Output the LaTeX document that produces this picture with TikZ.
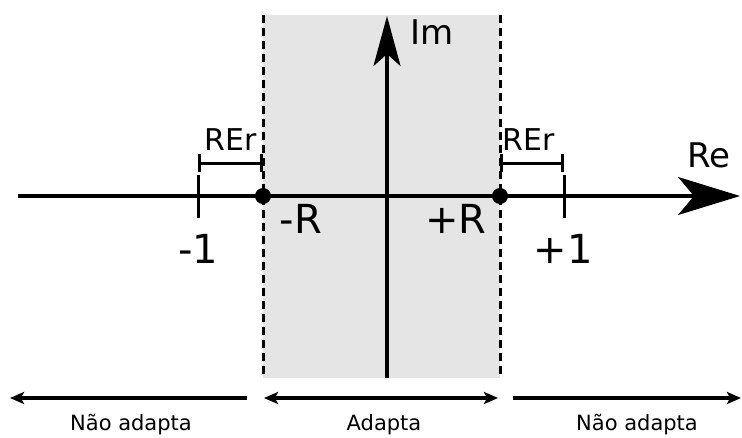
\documentclass[tikz,border=0pt]{standalone}
\usepackage{fontspec}
\setmainfont{DejaVu Sans}
\usetikzlibrary{arrows.meta, positioning, calc}
\tikzset{
  axis/.style    = {line width=3.5pt},
  retip/.tip     = {Stealth[length=62pt, width=38pt, inset=16pt]},
  imtip/.tip     = {Stealth[length=50pt, width=27pt, inset=12pt]},
  bound/.style   = {line width=3pt, dash pattern=on 8pt off 5pt},
  unitbar/.style = {line width=3pt},
  errbar/.style  = {line width=3pt, {Bar[width=18pt]}-{Bar[width=18pt]}},
  zonearr/.style = {line width=3.5pt},
  ztip/.tip      = {Stealth[length=14pt, width=12pt, inset=3pt]},
  pole/.style    = {circle, fill, inner sep=0pt, minimum size=16pt},
  biglbl/.style  = {anchor=base, inner sep=0pt,
                    font=\fontsize{40}{48}\selectfont},
  axlbl/.style   = {anchor=base, inner sep=0pt,
                    font=\fontsize{34}{40}\selectfont},
  errlbl/.style  = {anchor=base, inner sep=0pt,
                    font=\fontsize{30}{36}\selectfont},
  zonelbl/.style = {anchor=base, inner sep=0pt,
                    font=\fontsize{21}{26}\selectfont},
}

\begin{document}
\begin{tikzpicture}[x=1pt, y=-1pt]
  \useasboundingbox (0,0) rectangle (742,437);

  % band |Re| < R
  \coordinate (bL) at (263,15);
  \coordinate (bR) at (500,378);
  \fill[black!10] (bL) rectangle (bR);

  % axes
  \coordinate (reL) at (18,196);
  \coordinate (reR) at (740,196);
  \coordinate (imB) at (387,378);
  \coordinate (imT) at (387,16);
  \draw[axis, -retip] (reL) -- (reR);
  \draw[axis, -imtip] (imB) -- (imT);
  \node[axlbl] (re) at (709,167) {Re};
  \node[axlbl] (im) at (432,44) {Im};

  % band limits
  \draw[bound] (bL) -- (bL |- bR);
  \draw[bound] (bL -| bR) -- (bR);

  % unit marks
  \coordinate (um) at (198,196);
  \coordinate (up) at (564,196);
  \draw[unitbar] ($(um)+(0,-21)$) -- ($(um)+(0,22)$);
  \draw[unitbar] ($(up)+(0,-21)$) -- ($(up)+(0,22)$);
  \node[biglbl] (lum) at (198,263) {-1};
  \node[biglbl] (lup) at (563,263) {+1};

  % poles at -R and +R
  \node[pole] (mR) at (263,196) {};
  \node[pole] (pR) at (500,196) {};
  \node[biglbl] (lmR) at (301,233) {-R};
  \node[biglbl] (lpR) at (456,233) {+R};

  % error margins
  \draw[errbar] ($(um)+(0,-33)$) -- ($(mR.center)+(0,-33)$);
  \draw[errbar] ($(pR.center)+(0,-33)$) -- ($(up)+(0,-33)$);
  \node[errlbl] (e1) at (231,150) {REr};
  \node[errlbl] (e2) at (529,150) {REr};

  % zones
  \coordinate (z0) at (10,398);
  \coordinate (z1) at (247,398);
  \coordinate (z2) at (264,398);
  \coordinate (z3) at (498,398);
  \coordinate (z4) at (513,398);
  \coordinate (z5) at (741,398);
  \draw[zonearr, ztip-] (z0) -- (z1);
  \draw[zonearr, ztip-ztip] (z2) -- (z3);
  \draw[zonearr, -ztip] (z4) -- (z5);
  \node[zonelbl] (n1) at (131,430) {Não adapta};
  \node[zonelbl] (n2) at (384,430) {Adapta};
  \node[zonelbl] (n3) at (637,430) {Não adapta};
\end{tikzpicture}
\end{document}
